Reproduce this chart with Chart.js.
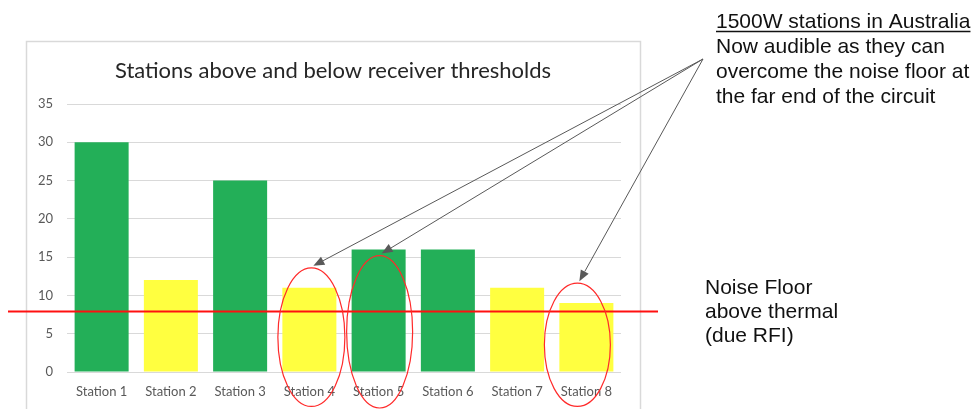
<!DOCTYPE html>
<html>
<head>
<meta charset="utf-8">
<script src="https://cdn.jsdelivr.net/npm/chart.js@4"></script>
<style>
  html, body { margin: 0; padding: 0; background: #ffffff; }
  #wrap { width: 974px; height: 409px; position: relative; }
</style>
</head>
<body>
<div id="wrap"><canvas id="c" width="974" height="409"></canvas></div>
<script>
// ---- data ----
const stations = ['Station 1', 'Station 2', 'Station 3', 'Station 4', 'Station 5', 'Station 6', 'Station 7', 'Station 8'];
const signalLevels = [30, 12, 25, 11, 16, 16, 11, 9];
const thresholdStatus = ['above', 'below', 'above', 'below', 'above', 'above', 'below', 'below'];
const yTicks = [0, 5, 10, 15, 20, 25, 30, 35];
const noiseFloor = 8;
const newlyAudible = [3, 4, 7]; // Station 4, Station 5, Station 8
const chartTitle = 'Stations above and below receiver thresholds';
const audibleNote = ['1500W stations in Australia', 'Now audible as they can', 'overcome the noise floor at', 'the far end of the circuit'];
const noiseNote = ['Noise Floor', 'above thermal', '(due RFI)'];

// ---- styling ----
const statusColors = { above: '#23AF58', below: '#FFFF40' };
const gridColor = '#D9D9D9';
const tickColor = '#595959';

// Ellipse outlines around the highlighted bars (in axis units)
const ellipseShape = {
  3: { dx: 2,  top: 13.6, bottom: -4.5, rx: 33.5 },
  4: { dx: 1,  top: 15.2, bottom: -4.7, rx: 33 },
  7: { dx: -9, top: 11.6, bottom: -4.5, rx: 33 }
};

const decorations = {
  id: 'decorations',
  beforeDraw(chart) {
    const ctx = chart.ctx;
    ctx.save();
    ctx.fillStyle = '#ffffff';
    ctx.fillRect(0, 0, chart.width, chart.height);
    // chart frame
    ctx.strokeStyle = gridColor;
    ctx.lineWidth = 1.5;
    ctx.strokeRect(26.5, 41.5, 614, 400);
    // title
    ctx.fillStyle = '#262626';
    ctx.font = '22px Lato, "Open Sans", sans-serif';
    ctx.textAlign = 'center';
    ctx.textBaseline = 'middle';
    ctx.fillText(chartTitle, 333, 71);
    ctx.restore();
  },
  afterDraw(chart) {
    const ctx = chart.ctx;
    const x = chart.scales.x, y = chart.scales.y;
    ctx.save();

    // noise floor line
    const yn = Math.round(y.getPixelForValue(noiseFloor)) + 0.5;
    ctx.strokeStyle = '#FF1010';
    ctx.lineWidth = 2;
    ctx.beginPath();
    ctx.moveTo(8, yn);
    ctx.lineTo(658, yn);
    ctx.stroke();

    // ellipses + arrows
    const tail = { x: 703, y: 59 };
    newlyAudible.forEach(i => {
      const s = ellipseShape[i];
      const cx = x.getPixelForValue(i) + s.dx;
      const top = y.getPixelForValue(s.top);
      const bot = y.getPixelForValue(s.bottom);
      const cy = (top + bot) / 2, ry = (bot - top) / 2;
      ctx.strokeStyle = '#FF2A2A';
      ctx.lineWidth = 1.2;
      ctx.beginPath();
      ctx.ellipse(cx, cy, s.rx, ry, 0, 0, Math.PI * 2);
      ctx.stroke();

      // arrow from note to ellipse top
      const tipX = cx + 2, tipY = top - 2;
      const ang = Math.atan2(tipY - tail.y, tipX - tail.x);
      const len = 11, hw = 4.5;
      const bx = tipX - len * Math.cos(ang), by = tipY - len * Math.sin(ang);
      ctx.strokeStyle = '#595959';
      ctx.lineWidth = 1;
      ctx.beginPath();
      ctx.moveTo(tail.x, tail.y);
      ctx.lineTo(bx, by);
      ctx.stroke();
      ctx.fillStyle = '#595959';
      ctx.beginPath();
      ctx.moveTo(tipX, tipY);
      ctx.lineTo(bx + hw * Math.sin(ang), by - hw * Math.cos(ang));
      ctx.lineTo(bx - hw * Math.sin(ang), by + hw * Math.cos(ang));
      ctx.closePath();
      ctx.fill();
    });

    // notes
    ctx.fillStyle = '#111111';
    ctx.font = '21px "Liberation Sans", Arial, sans-serif';
    ctx.textAlign = 'left';
    ctx.textBaseline = 'alphabetic';
    audibleNote.forEach((t, k) => ctx.fillText(t, 716, 28 + k * 25));
    const w0 = ctx.measureText(audibleNote[0]).width;
    ctx.strokeStyle = '#111111';
    ctx.lineWidth = 1.5;
    ctx.beginPath();
    ctx.moveTo(716, 31.5);
    ctx.lineTo(716 + w0, 31.5);
    ctx.stroke();

    noiseNote.forEach((t, k) => ctx.fillText(t, 705, 294 + k * 24));
    ctx.restore();
  }
};

new Chart(document.getElementById('c'), {
  type: 'bar',
  data: {
    labels: stations,
    datasets: [{
      data: signalLevels,
      backgroundColor: thresholdStatus.map(s => statusColors[s]),
      borderWidth: 0,
      barPercentage: 0.78,
      categoryPercentage: 1
    }]
  },
  options: {
    responsive: false,
    devicePixelRatio: 1,
    animation: false,
    layout: { padding: { left: 26, right: 353, top: 104, bottom: 0 } },
    plugins: { legend: { display: false }, title: { display: false }, tooltip: { enabled: false } },
    scales: {
      x: {
        grid: { display: false, drawTicks: false },
        border: { display: false },
        ticks: { color: tickColor, font: { family: 'Lato, "Open Sans", sans-serif', size: 13 }, padding: 12, maxRotation: 0 },
        afterFit(s) { s.height = 37; }
      },
      y: {
        min: 0, max: 35,
        afterBuildTicks(s) { s.ticks = yTicks.map(v => ({ value: v })); },
        grid: { color: gridColor, lineWidth: 1, drawTicks: false },
        border: { display: false },
        ticks: { color: tickColor, font: { family: 'Lato, "Open Sans", sans-serif', size: 13 }, padding: 14 },
        afterFit(s) { s.width = 41; }
      }
    }
  },
  plugins: [decorations]
});
</script>
</body>
</html>
